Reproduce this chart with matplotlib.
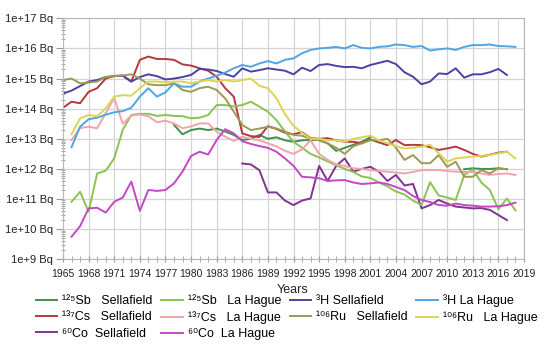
import numpy as np
import matplotlib.pyplot as plt
from matplotlib.ticker import FixedLocator, MultipleLocator, FuncFormatter, NullFormatter

plt.rcParams['font.family'] = ['Liberation Sans', 'DejaVu Sans']

# yearly discharges, given as log10(Bq)
# Sellafield series start 1965, La Hague ones 1966

h3_sf_start = 1965
h3_sf = [14.5, 14.6, 14.75, 14.9, 14.95, 15.05, 15.08, 15.1, 14.9, 15.05,
         15.14, 15.08, 14.97, 15.0, 15.05, 15.12, 15.32, 15.3, 15.25, 15.15,
         15.06, 15.34, 15.23, 15.28, 15.34, 15.3, 15.26, 15.14, 15.36, 15.25,
         15.45, 15.48, 15.42, 15.38, 15.39, 15.34, 15.45, 15.52, 15.59, 15.48,
         15.21, 15.06, 14.81, 14.9, 15.17, 15.15, 15.34, 15.03, 15.14, 15.14,
         15.21, 15.32, 15.12]

h3_lh_start = 1966
h3_lh = [12.72, 13.4, 13.65, 13.7, 13.8, 13.88, 13.92, 14.03, 14.4,
         14.68, 14.4, 14.54, 14.84, 14.73, 14.73, 14.9, 15.0, 15.09, 15.2,
         15.34, 15.45, 15.39, 15.5, 15.58, 15.5, 15.62, 15.67, 15.84, 15.95,
         16.0, 16.02, 16.05, 16.0, 16.11, 16.02, 16.0, 16.05, 16.07, 16.13,
         16.11, 16.05, 16.08, 15.93, 15.97, 16.0, 15.95, 16.05, 16.11, 16.11,
         16.13, 16.08, 16.07, 16.05]

cs_sf_start = 1965
cs_sf = [14.03, 14.23, 14.18, 14.56, 14.68, 15.0, 15.09, 15.09, 14.9, 15.62,
         15.73, 15.65, 15.65, 15.62, 15.47, 15.43, 15.34, 15.26, 15.06, 14.68,
         14.4, 13.18, 13.09, 13.06, 13.42, 13.33, 13.2, 13.15, 13.22, 13.02,
         13.0, 13.02, 12.95, 12.9, 12.9, 12.85, 12.98, 12.88, 12.79, 12.96,
         12.79, 12.8, 12.79, 12.72, 12.63, 12.68, 12.74, 12.63, 12.5, 12.41,
         12.47, 12.54, 12.57]

cs_lh_start = 1966
cs_lh = [12.96, 13.36, 13.4, 13.35, 13.85, 14.35, 13.5, 13.77, 13.81,
         13.75, 13.55, 13.6, 13.51, 13.35, 13.41, 13.51, 13.51, 13.24, 13.07,
         12.93, 13.07, 13.0, 12.95, 12.85, 12.75, 12.6, 12.5, 12.65, 12.95,
         12.5, 12.3, 12.15, 12.1, 12.02, 12.0, 11.96, 11.93, 11.91, 11.88,
         11.85, 11.9, 11.96, 11.96, 11.96, 11.93, 11.91, 11.9, 11.9, 11.85,
         11.8, 11.83, 11.85, 11.8]

# no values plotted 2002-2011
sb_sf_start = 1978
sb_sf = [13.46, 13.15, 13.29, 13.34, 13.29, 13.34, 13.24,
         13.13, 12.96, 13.0, 13.13, 13.0, 13.05, 12.95, 12.9, 12.95, 12.96,
         12.96, 12.85, 12.6, 12.7, 12.8, 12.9, 13.05, None, None, None,
         None, None, None, None, None, None, None, 11.99, 12.02, 12.0,
         12.0, 12.02, 11.99]

sb_lh_start = 1966
sb_lh = [10.91, 11.24, 10.58, 11.85, 11.94, 12.35, 13.3, 13.79, 13.83,
         13.83, 13.76, 13.79, 13.76, 13.75, 13.68, 13.7, 13.79, 14.12, 14.12,
         14.07, 14.12, 14.23, 14.07, 13.9, 13.62, 13.24, 12.9, 12.7, 12.5,
         12.38, 12.25, 12.12, 12.0, 11.9, 11.75, 11.7, 11.55, 11.42, 11.25,
         11.15, 10.95, 10.8, 11.56, 11.12, 11.05, 10.97, 11.8, 11.99, 11.55,
         11.3, 10.66, 11.02, 10.62]

ru_sf_start = 1965
ru_sf = [14.95, 15.0, 14.84, 14.87, 14.9, 15.05, 15.08, 15.1, 15.14, 15.0,
         14.81, 14.78, 14.78, 14.84, 14.62, 14.56, 14.68, 14.73, 14.62, 14.34,
         13.9, 13.46, 13.29, 13.34, 13.4, 13.34, 13.24, 13.13, 13.1, 13.0,
         12.95, 12.85, 12.7, 12.5, 12.75, 12.85, 12.95, 12.95, 13.0, 12.7,
         12.3, 12.46, 12.19, 12.19, 12.46, 12.07, 12.24, 11.74, 11.74, 11.96,
         11.85, 12.02, 11.99]

ru_lh_start = 1966
ru_lh = [13.15, 13.68, 13.79, 13.75, 14.01, 14.4, 14.45, 14.43, 14.68,
         14.9, 14.9, 14.88, 14.9, 14.9, 14.84, 14.9, 14.95, 14.9, 14.95,
         14.9, 14.95, 15.0, 14.76, 14.68, 14.35, 13.82, 13.43, 13.2, 13.0,
         13.0, 12.95, 12.95, 12.9, 13.0, 13.05, 13.1, 12.95, 12.85, 12.75,
         12.68, 12.7, 12.74, 12.8, 12.52, 12.24, 12.35, 12.38, 12.41, 12.43,
         12.46, 12.52, 12.57, 12.35]

co_sf_start = 1986
co_sf = [12.18, 12.15, 11.96, 11.22, 11.22, 10.95, 10.8, 10.95, 11.02,
         12.1, 11.6, 12.1, 12.35, 11.91, 12.0, 12.07, 11.91, 11.6, 11.8,
         11.45, 11.5, 10.69, 10.8, 10.97, 10.85, 10.75, 10.72, 10.69, 10.7,
         10.64, 10.47, 10.3]

co_lh_start = 1966
co_lh = [9.75, 10.1, 10.69, 10.71, 10.55, 10.91, 11.05, 11.58, 10.61,
         11.3, 11.27, 11.3, 11.52, 11.91, 12.43, 12.57, 12.48, 12.96, 13.32,
         13.18, 12.92, 12.83, 12.76, 12.7, 12.57, 12.35, 12.1, 11.74, 11.72,
         11.69, 11.6, 11.62, 11.63, 11.55, 11.5, 11.52, 11.55, 11.5, 11.4,
         11.3, 11.1, 10.97, 10.9, 10.8, 10.78, 10.85, 10.8, 10.78, 10.75,
         10.75, 10.76, 10.8, 10.88]

# legend is filled column by column, so keep this order
series = [
    ('¹²⁵Sb   Sellafield', sb_sf_start, sb_sf, '#3f8f4f'),
    ('¹³⁷Cs   Sellafield', cs_sf_start, cs_sf, '#b5383c'),
    ('⁶⁰Co  Sellafield', co_sf_start, co_sf, '#7e3590'),
    ('¹²⁵Sb   La Hague', sb_lh_start, sb_lh, '#8cc251'),
    ('¹³⁷Cs   La Hague', cs_lh_start, cs_lh, '#f2a3ab'),
    ('⁶⁰Co  La Hague', co_lh_start, co_lh, '#c447c4'),
    ('³H Sellafield', h3_sf_start, h3_sf, '#4a43a3'),
    ('¹⁰⁶Ru   Sellafield', ru_sf_start, ru_sf, '#9c9a55'),
    ('³H La Hague', h3_lh_start, h3_lh, '#4ea6e2'),
    ('¹⁰⁶Ru   La Hague', ru_lh_start, ru_lh, '#dcd455'),
]

fig = plt.figure(figsize=(5.5, 3.49), dpi=100)
ax = fig.add_axes([63 / 550, 1 - 259.3 / 349, 461 / 550, 241 / 349])

for label, start, vals, col in series:
    v = np.array([np.nan if x is None else x for x in vals], dtype=float)
    yrs = np.arange(start, start + len(v))
    ax.plot(yrs, np.power(10.0, v), color=col, lw=1.4, label=label)

ax.set_yscale('log')
ax.set_ylim(1e9, 1e17)
ax.set_xlim(1965, 2019)

ax.xaxis.set_major_locator(MultipleLocator(3))
ax.xaxis.set_minor_locator(MultipleLocator(1))
ax.yaxis.set_major_locator(FixedLocator([10.0 ** k for k in range(9, 18)]))
ax.yaxis.set_major_formatter(FuncFormatter(lambda v, p: '1e+%d Bq' % round(np.log10(v))))
ax.yaxis.set_minor_formatter(NullFormatter())

ax.grid(True, which='major', color='#d4d4d4', lw=0.9)
ax.set_axisbelow(True)
for s in ax.spines.values():
    s.set_color('#b8b8b8')

ax.tick_params(axis='x', which='major', labelsize=7.5, length=4, direction='inout',
               color='#999999', pad=5, labelcolor='#222222')
ax.tick_params(axis='x', which='minor', length=4, direction='inout', color='#999999')
ax.tick_params(axis='y', which='major', labelsize=8, length=5, direction='out',
               color='#999999', pad=2, labelcolor='#222222')
ax.tick_params(axis='y', which='minor', length=3, direction='inout', color='#999999')

fig.text(293 / 550, 1 - 290 / 349, 'Years', ha='center', va='center', fontsize=9,
         color='#222222')

fig.legend(loc='upper left', bbox_to_anchor=(36 / 550, 1 - 294.5 / 349), ncol=4,
           frameon=False, fontsize=9, handlelength=1.7, handletextpad=0.4,
           columnspacing=0.7, labelspacing=0.33, borderpad=0, borderaxespad=0)

fig.savefig('out.png', dpi=100)
